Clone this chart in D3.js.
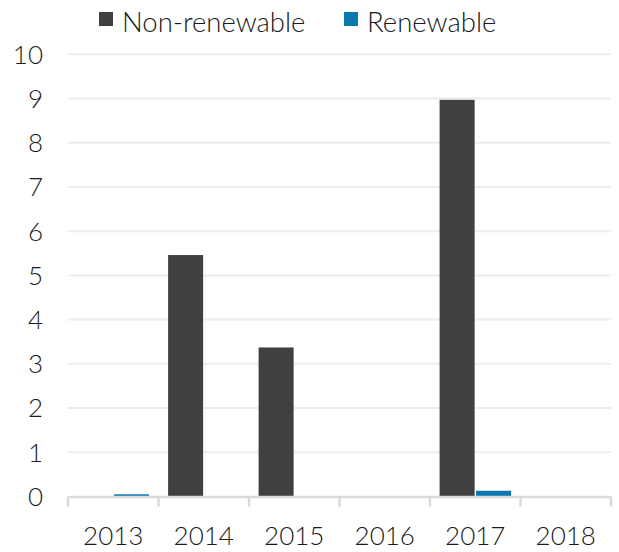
<!DOCTYPE html>
<html>
<head>
<meta charset="utf-8">
<script src="https://cdn.jsdelivr.net/npm/d3@7"></script>
<style>
  html, body { margin: 0; padding: 0; background: #fff; }
  text { font-family: Lato, "Open Sans", sans-serif; font-weight: 300; fill: #1a1a1a; }
</style>
</head>
<body>
<svg id="chart" width="619" height="552"></svg>
<script>
const years = ["2013", "2014", "2015", "2016", "2017", "2018"];
const seriesNames = ["Non-renewable", "Renewable"];
const nonRenewable = [0, 5.46, 3.37, 0, 8.97, 0];
const renewable = [0.05, 0, 0, 0, 0.13, 0];
const yTicks = [0, 1, 2, 3, 4, 5, 6, 7, 8, 9, 10];
const colors = ["#404040", "#0a77b0"];

const svg = d3.select("#chart");
const margin = { left: 68, right: 8, top: 54.3, bottom: 55.5 };
const W = 619, H = 552;
const y0 = 496.5;

const x0 = d3.scaleBand().domain(years).range([margin.left, 611]).paddingInner(0).paddingOuter(0);
const x1 = d3.scaleBand().domain(seriesNames).range([9.6, x0.bandwidth() - 9.4]).paddingInner(0.04).paddingOuter(0);
const y = d3.scaleLinear().domain([0, 10]).range([y0, 54.3]);

// gridlines
svg.append("g").selectAll("line").data(yTicks.filter(d => d > 0)).join("line")
  .attr("x1", margin.left).attr("x2", 611)
  .attr("y1", d => y(d)).attr("y2", d => y(d))
  .attr("stroke", "#ececec").attr("stroke-width", 2);

// y labels
svg.append("g").selectAll("text").data(yTicks).join("text")
  .attr("x", 43).attr("y", d => y(d)).attr("dy", "0.36em")
  .attr("text-anchor", "end").attr("font-size", 26)
  .text(d => d);

// bars
const data = years.map((yr, i) => ({ year: yr, vals: [nonRenewable[i], renewable[i]] }));
const groups = svg.append("g").selectAll("g").data(data).join("g")
  .attr("transform", d => `translate(${x0(d.year)},0)`);
groups.selectAll("rect").data(d => d.vals.map((v, k) => ({ key: seriesNames[k], v, k })))
  .join("rect")
  .attr("x", d => x1(d.key)).attr("width", x1.bandwidth())
  .attr("y", d => y(d.v)).attr("height", d => y0 - y(d.v))
  .attr("fill", d => colors[d.k]);

// x axis
const xAxis = svg.append("g");
xAxis.append("line").attr("x1", margin.left).attr("x2", 611).attr("y1", y0 + 0.5).attr("y2", y0 + 0.5)
  .attr("stroke", "#d9d9d9").attr("stroke-width", 2.5);
const bounds = years.map(d => x0(d)).concat([x0(years[years.length - 1]) + x0.bandwidth()]);
xAxis.selectAll("line.tick").data(bounds).join("line").attr("class", "tick")
  .attr("x1", d => d).attr("x2", d => d).attr("y1", y0).attr("y2", y0 + 10)
  .attr("stroke", "#d9d9d9").attr("stroke-width", 2.5);
xAxis.selectAll("text").data(years).join("text")
  .attr("x", d => x0(d) + x0.bandwidth() / 2).attr("y", 545)
  .attr("text-anchor", "middle").attr("font-size", 26)
  .text(d => d);

// legend
const legendX = [99, 344];
const lg = svg.append("g").selectAll("g").data(seriesNames).join("g")
  .attr("transform", (d, i) => `translate(${legendX[i]},0)`);
lg.append("rect").attr("x", 0).attr("y", 12).attr("width", 14).attr("height", 14)
  .attr("fill", (d, i) => colors[i]);
lg.append("text").attr("x", 23).attr("y", 31.5).attr("font-size", 27.5).text(d => d);
</script>
</body>
</html>
